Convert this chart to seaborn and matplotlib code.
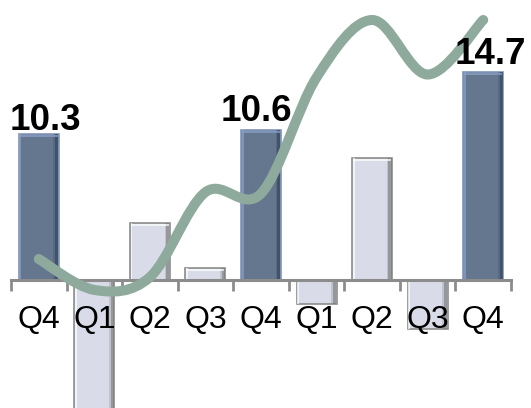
import numpy as np
import pandas as pd
import matplotlib
matplotlib.use("Agg")
import matplotlib.pyplot as plt
from matplotlib.path import Path
from matplotlib.patches import PathPatch, Rectangle
import seaborn as sns

# Quarterly figures
quarters = ["Q4", "Q1", "Q2", "Q3", "Q4", "Q1", "Q2", "Q3", "Q4"]
bar_values = [10.3, -9.8, 4.0, 0.83, 10.6, -1.72, 8.6, -3.46, 14.7]
bar_kind = ["year", "quarter", "quarter", "quarter", "year",
            "quarter", "quarter", "quarter", "year"]
trend_values = [1.48, -0.7, 0.2, 6.2, 6.1, 14.3, 18.35, 14.5, 18.35]
labelled = {0: "10.3", 4: "10.6", 8: "14.7"}

sns.set_style("white")
plt.rcParams["font.family"] = ["Liberation Sans", "DejaVu Sans"]

df = pd.DataFrame({"pos": range(len(quarters)), "value": bar_values, "kind": bar_kind})

fill = {"year": "#5e7596", "quarter": "#d6daeb"}
edge = {"year": "#7f95b9", "quarter": "#8c8c8c"}
left_hi = {"year": "#8ba2c9", "quarter": "#ffffff"}
right_sh = {"year": "#34445a", "quarter": "#7a7a7a"}

fig = plt.figure(figsize=(5.31, 4.08), dpi=100)
ax = fig.add_axes([11 / 531, 0, 500 / 531, 1])

sns.barplot(data=df, x="pos", y="value", hue="kind", palette=fill,
            dodge=False, width=0.72, legend=False, ax=ax, zorder=1)

bars = [p for p in ax.patches if p.get_height() != 0]
for p in bars:
    i = int(round(p.get_x() + p.get_width() / 2))
    k = bar_kind[i]
    p.set_edgecolor(edge[k])
    p.set_linewidth(1.2)
    x0, w = p.get_x(), p.get_width()
    y0, h = p.get_y(), p.get_height()
    top = y0 + h if h > 0 else y0
    bot = y0 if h > 0 else y0 + h
    # bevel: light left/top strip, dark right strip
    ax.add_patch(Rectangle((x0 + 0.012, bot), 0.035, top - bot,
                           facecolor=left_hi[k], edgecolor="none", alpha=0.7, zorder=1.1))
    ax.add_patch(Rectangle((x0 + w - 0.065, bot), 0.055, top - bot,
                           facecolor=right_sh[k], edgecolor="none", alpha=0.7, zorder=1.1))
    ax.add_patch(Rectangle((x0 + w - 0.095, bot), 0.03, top - bot,
                           facecolor=right_sh[k], edgecolor="none", alpha=0.25, zorder=1.1))
    if h > 0:
        ax.add_patch(Rectangle((x0 + 0.012, top - 0.2), w - 0.03, 0.14,
                               facecolor=left_hi[k], edgecolor="none", alpha=0.7, zorder=1.1))

# smooth trend line (Catmull-Rom as cubic Bezier segments)
xs = np.arange(len(trend_values), dtype=float)
ys = np.asarray(trend_values, dtype=float)
pts = np.column_stack([xs, ys])
ext = np.vstack([pts[0], pts, pts[-1]])
verts = [tuple(pts[0])]
codes = [Path.MOVETO]
for i in range(len(pts) - 1):
    p0, p1, p2, p3 = ext[i], ext[i + 1], ext[i + 2], ext[i + 3]
    c1 = p1 + (p2 - p0) / 6.0
    c2 = p2 - (p3 - p1) / 6.0
    verts += [tuple(c1), tuple(c2), tuple(p2)]
    codes += [Path.CURVE4] * 3
ax.add_patch(PathPatch(Path(verts, codes), fill=False, edgecolor="#8eaa9d",
                       lw=7.2, capstyle="round", joinstyle="round", zorder=3))

# value labels
offsets = {0: (4.7, 2.9), 4: (-3.6, 6.5), 8: (4.8, 5.8)}
for i, txt in labelled.items():
    ax.annotate(txt, xy=(i, bar_values[i]), xytext=offsets[i],
                textcoords="offset points", ha="center", va="baseline",
                fontsize=26.5, fontweight="bold", color="black", zorder=4)

ax.set_xlim(-0.5, len(quarters) - 0.5)
ax.set_ylim(-128 / 14.17, 280 / 14.17)
for s in ["top", "left", "right"]:
    ax.spines[s].set_visible(False)
ax.spines["bottom"].set_position(("data", 0))
ax.spines["bottom"].set_color("#8c8c8c")
ax.spines["bottom"].set_linewidth(2.2)
ax.set_axisbelow(False)

ax.set_xticks(range(len(quarters)))
ax.set_xticklabels(quarters)
ax.set_xticks(np.arange(-0.5, len(quarters)), minor=True)
ax.tick_params(axis="x", which="major", bottom=True, length=0, pad=18,
               labelsize=23, labelcolor="black")
ax.tick_params(axis="x", which="minor", bottom=True, length=8, width=2,
               color="#8c8c8c", direction="out")
ax.set_yticks([])
ax.set_xlabel("")
ax.set_ylabel("")
ax.patch.set_alpha(0)

fig.savefig("out.png", dpi=100)
